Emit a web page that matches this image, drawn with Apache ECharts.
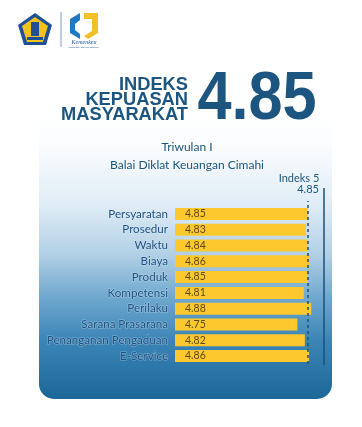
<!DOCTYPE html>
<html>
<head>
<meta charset="utf-8">
<script src="https://cdn.jsdelivr.net/npm/echarts@6/dist/echarts.min.js"></script>
<style>
  html, body { margin: 0; padding: 0; background: #fff; }
  #main { width: 362px; height: 427px; }
</style>
</head>
<body>
<div id="main"></div>
<script>
// data
const categories = ['Persyaratan', 'Prosedur', 'Waktu', 'Biaya', 'Produk', 'Kompetensi',
  'Perilaku', 'Sarana Prasarana', 'Penanganan Pengaduan', 'E-Service'];
const scores = [4.85, 4.83, 4.84, 4.86, 4.85, 4.81, 4.88, 4.75, 4.82, 4.86];
const overallIndex = 4.85;
const maxIndex = 5;
const periodText = 'Triwulan I';
const unitText = 'Balai Diklat Keuangan Cimahi';

const dark = '#1b5580';
const font = 'Lato';

let myChart = echarts.init(document.getElementById('main'));

let option = {
  animation: false,
  textStyle: { fontFamily: font },
  graphic: [
    // panel
    {
      type: 'rect', z: -10,
      shape: { x: 39, y: 112, width: 293, height: 287, r: 15 },
      style: {
        fill: new echarts.graphic.LinearGradient(0, 0, 0, 1, [
          { offset: 0, color: '#ffffff' },
          { offset: 0.12, color: '#fafcfe' },
          { offset: 0.32, color: '#e0edf6' },
          { offset: 0.5, color: '#b0cfe5' },
          { offset: 0.65, color: '#6ea7ce' },
          { offset: 0.8, color: '#3a84b6' },
          { offset: 1, color: '#1d6698' }
        ])
      }
    },
    // emblem
    {
      type: 'polygon',
      shape: { points: [[35, 13], [52, 25], [46, 45], [24, 45], [18, 25]] },
      style: { fill: '#1f4f96' }
    },
    {
      type: 'polygon',
      shape: { points: [[35, 17], [48, 26], [43, 42], [27, 42], [22, 26]] },
      style: { fill: '#f2c21b' }
    },
    {
      type: 'rect',
      shape: { x: 31, y: 22, width: 8, height: 14 },
      style: { fill: '#1f4f96' }
    },
    {
      type: 'rect',
      shape: { x: 27, y: 37, width: 16, height: 3 },
      style: { fill: '#1f4f96' }
    },
    // divider
    {
      type: 'line',
      shape: { x1: 61, y1: 12, x2: 61, y2: 47 },
      style: { stroke: '#7a9cc0', lineWidth: 1 }
    },
    // second logo
    {
      type: 'polygon',
      shape: { points: [[70, 19], [80, 13], [80, 20], [75, 24], [75, 30], [80, 34], [80, 39], [70, 33]] },
      style: { fill: '#1f79c0' }
    },
    {
      type: 'polygon',
      shape: { points: [[84, 13], [98, 13], [98, 33], [88, 39], [84, 36], [92, 31], [92, 19], [84, 19]] },
      style: { fill: '#f4c02a' }
    },
    {
      type: 'text',
      style: { text: 'Kemenkeu', x: 84, y: 42, align: 'center', verticalAlign: 'middle',
        font: 'italic 6px "Liberation Serif"', fill: '#1f4f96' }
    },
    {
      type: 'text',
      style: { text: 'KORPORATE UNIVERSITY', x: 84, y: 47, align: 'center', verticalAlign: 'middle',
        font: '2.5px "Liberation Sans"', fill: '#1f4f96' }
    },
    // title
    {
      type: 'text',
      style: {
        text: 'INDEKS\nKEPUASAN\nMASYARAKAT', x: 188, y: 99.5, align: 'right', verticalAlign: 'middle',
        font: 'bold 18.3px "Liberation Sans"', lineHeight: 15, fill: dark
      }
    },
    {
      type: 'text',
      x: 257, y: 100, scaleX: 0.9,
      style: {
        text: String(overallIndex), x: 0, y: 0, align: 'center', verticalAlign: 'middle',
        font: 'bold 68px "Liberation Sans"', fill: dark
      }
    },
    {
      type: 'text',
      style: { text: periodText, x: 187, y: 147, align: 'center', verticalAlign: 'middle',
        font: '12px Lato', fill: dark }
    },
    {
      type: 'text',
      style: { text: unitText, x: 187, y: 165, align: 'center', verticalAlign: 'middle',
        font: '12px Lato', fill: dark }
    }
  ],
  grid: { left: 175, width: 149, top: 206, height: 158, containLabel: false },
  xAxis: {
    type: 'value', min: 3.6, max: maxIndex, show: false
  },
  yAxis: {
    type: 'category', inverse: true, data: categories,
    axisLine: { show: false }, axisTick: { show: false },
    axisLabel: {
      margin: 7, fontSize: 11.6, color: '#1d5080', fontFamily: font,
      textBorderColor: 'rgba(230,242,250,0.4)', textBorderWidth: 1.2
    }
  },
  series: [{
    type: 'bar',
    data: scores,
    barWidth: 12,
    itemStyle: { color: '#fdc72e' },
    label: {
      show: true, position: 'insideLeft', distance: 10,
      formatter: p => p.value.toFixed(2),
      fontSize: 10.5, color: '#5c4a14', fontFamily: font
    },
    markLine: {
      silent: true, symbol: 'none',
      data: []
    }
  }]
};

myChart.setOption(option);

// vertical reference lines, placed with the value axis scale
const x5 = myChart.convertToPixel({ xAxisIndex: 0 }, maxIndex);
const xAvg = myChart.convertToPixel({ xAxisIndex: 0 }, overallIndex);
myChart.setOption({
  series: [{
    markLine: {
      silent: true, symbol: 'none',
      data: [
        [
          { x: x5, y: 365, lineStyle: { color: '#1d4f78', width: 1.5, type: 'solid' },
            label: { show: true, position: 'end', formatter: 'Indeks ' + maxIndex, distance: 4,
              color: dark, fontSize: 11, fontFamily: font, padding: [0, 50, 0, 0] } },
          { x: x5, y: 188 }
        ],
        [
          { x: xAvg, y: 364, lineStyle: { color: '#1d4f78', width: 1.5, type: [3, 3] },
            label: { show: true, position: 'end', formatter: String(overallIndex), distance: 6,
              color: dark, fontSize: 11, fontFamily: font } },
          { x: xAvg, y: 201 }
        ]
      ]
    }
  }]
});
</script>
</body>
</html>
